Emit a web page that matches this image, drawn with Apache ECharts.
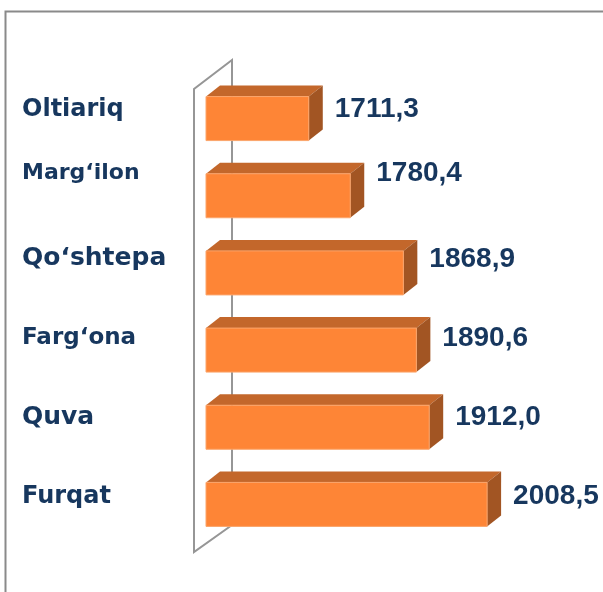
<!DOCTYPE html>
<html>
<head>
<meta charset="utf-8">
<script src="https://cdn.jsdelivr.net/npm/echarts@6/dist/echarts.min.js"></script>
<style>
  html, body { margin: 0; padding: 0; background: #fff; }
  #chart { width: 603px; height: 592px; }
</style>
</head>
<body>
<div id="chart"></div>
<script>
// data
const categories = ['Oltiariq', 'Marg‘ilon', 'Qo‘shtepa', 'Farg‘ona', 'Quva', 'Furqat'];
const values = [1711.3, 1780.4, 1868.9, 1890.6, 1912.0, 2008.5];

// per-row label look (the source slide is not regular)
const labelSizes = [24, 22, 25, 23, 25, 24];
const rowShift = [-9, -22, -14, -12, -10, -8];

const X_MIN = 1540;
const X_MAX = 2100;
const BAR_H = 44;
const DX = 14;
const DY = 11;
const TEXT = '#17375E';

const dom = document.getElementById('chart');
const chart = echarts.init(dom, null, { renderer: 'canvas' });

const rich = {};
categories.forEach(function (c, i) {
  rich['c' + i] = {
    fontFamily: 'DejaVu Sans',
    fontWeight: 'bold',
    fontSize: labelSizes[i],
    color: TEXT,
    padding: rowShift[i] < 0 ? [0, 0, -2 * rowShift[i], 0] : [2 * rowShift[i], 0, 0, 0]
  };
});

function renderItem(params, api) {
  const i = api.value(1);
  const base = api.coord([X_MIN, i]);
  const tip = api.coord([api.value(0), i]);
  const x0 = base[0];
  const x1 = tip[0];
  const y0 = tip[1] - BAR_H / 2;
  const y1 = tip[1] + BAR_H / 2;
  return {
    type: 'group',
    children: [
      {
        type: 'polygon',
        shape: { points: [[x0, y0], [x0 + DX, y0 - DY], [x1 + DX, y0 - DY], [x1, y0]] },
        style: { fill: '#C3672B' }
      },
      {
        type: 'polygon',
        shape: { points: [[x1, y0], [x1 + DX, y0 - DY], [x1 + DX, y1 - DY], [x1, y1]] },
        style: { fill: '#A25523' }
      },
      {
        type: 'rect',
        shape: { x: x0, y: y0, width: x1 - x0, height: BAR_H },
        style: { fill: '#FE8536', stroke: '#FBA56B', lineWidth: 1 }
      },
      {
        type: 'text',
        x: x1 + DX + 12,
        y: tip[1] + rowShift[i],
        style: {
          text: values[i].toFixed(1).replace('.', ','),
          fill: TEXT,
          font: 'bold 28px "Liberation Sans", Arial, sans-serif',
          align: 'left',
          verticalAlign: 'middle'
        }
      }
    ]
  };
}

const option = {
  animation: false,
  grid: { left: 206, top: 80, width: 336, height: 463 },
  xAxis: {
    type: 'value',
    min: X_MIN,
    max: X_MAX,
    show: false
  },
  yAxis: {
    type: 'category',
    inverse: true,
    data: categories,
    axisLine: { show: false },
    axisTick: { show: false },
    splitLine: { show: false },
    axisLabel: {
      align: 'left',
      margin: 184,
      formatter: function (v, i) {
        return '{c' + i + '|' + v + '}';
      },
      rich: rich
    }
  },
  graphic: [
    {
      // outer frame
      type: 'polyline',
      z: 0,
      shape: { points: [[5.5, 592], [5.5, 11.5], [603, 11.5]] },
      style: { stroke: '#8A8A8A', lineWidth: 2, fill: null }
    },
    {
      // the 3D back wall
      type: 'polygon',
      z: 0,
      shape: { points: [[194, 552], [194, 89], [232, 60], [232, 525]] },
      style: { stroke: '#969696', lineWidth: 2, fill: null }
    }
  ],
  series: [
    {
      type: 'custom',
      z: 5,
      renderItem: renderItem,
      encode: { x: 0, y: 1 },
      data: values.map(function (v, i) { return [v, i]; })
    }
  ]
};

chart.setOption(option);
window.addEventListener('resize', function () {
  chart.resize();
});
</script>
</body>
</html>
